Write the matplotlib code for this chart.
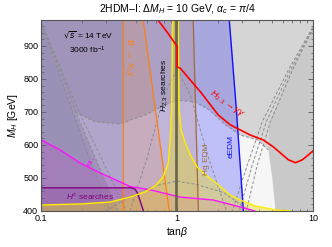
import matplotlib
matplotlib.use('Agg')
import matplotlib.pyplot as plt
from matplotlib.ticker import MultipleLocator, FixedLocator, NullFormatter

plt.rcParams['font.family'] = ['Liberation Sans', 'DejaVu Sans']
plt.rcParams['mathtext.fontset'] = 'custom'
plt.rcParams['mathtext.rm'] = 'Liberation Sans'
plt.rcParams['mathtext.it'] = 'Liberation Sans:italic'

# --- boundaries (tan(beta), M_H [GeV]) ---
red_tb = [0.72, 0.85, 1.0, 1.0, 1.05, 1.5, 2.0, 2.45, 3.44, 4.29, 5.08, 6.55, 7.38, 8.3, 9.19, 10.0]
red_M = [979, 940, 898, 836, 833, 758, 691, 661, 630, 615, 594, 555, 546, 555, 570, 583]

eedm_tb = [2.41, 2.72, 3.06]
eedm_M = [980, 706, 400]

hg_tb = [1.31, 1.43]
hg_M = [980, 400]

bsg_tb = [0.562, 0.874]
bsg_M = [980, 400]
bsg_low = 0.40

tt_tb = [0.1, 0.138, 0.194, 0.272, 0.381, 0.451, 0.633, 1.05, 1.84, 2.9, 3.7]
tt_M = [615, 585, 545, 515, 488, 474, 464, 442, 433, 412, 400]

hpm_tb = [0.1, 0.46, 0.49, 0.51, 0.535, 0.565]
hpm_M = [470, 470, 466, 455, 430, 400]

yel_tb = [0.1, 0.194, 0.321, 0.451, 0.582, 0.689, 0.789, 0.86, 0.889, 0.91, 0.925,
          1.017, 1.034, 1.07, 1.145, 1.247, 1.402, 1.663, 1.966, 2.452, 2.904, 3.748, 5.26, 6.77]
yel_M = [418, 421, 427, 442, 458, 476, 503, 545, 615, 706, 980,
         980, 706, 645, 606, 570, 533, 506, 482, 448, 433, 415, 403, 400]
tb_center = 0.985

# allowed (light) region from theory constraints
wh_tb = [0.368, 0.254, 0.178, 0.25, 0.381, 0.582, 0.816, 1.0, 1.356, 1.718, 2.253, 2.904,
         3.9, 4.667, 5.0, 5.26]
wh_M = [400, 555, 700, 670, 664, 691, 721, 736, 730, 706, 661, 630,
        615, 585, 494, 400]

# darker grey beyond the right edge
dk_M = [955, 827, 670, 585, 494, 400]
dk_tb = [10.0, 6.77, 4.7, 4.667, 5.0, 5.26]

# dashed fan lines (outer "V")
fan_M = [967, 858, 706, 555, 400]
fanL1 = [0.100, 0.1247, 0.169, 0.229, 0.321]
fanL2 = [0.100, 0.1289, 0.178, 0.254, 0.368]
fanL3 = [0.1017, 0.1311, 0.187, 0.281, 0.422]
fanR_M = [955, 827, 670, 539, 400]
fanR1 = [10.0, 7.02, 4.83, 3.87, 3.22]
fanR2 = [10.0, 6.77, 4.51, 3.556, 2.86]
fanR3 = [9.84, 6.55, 4.21, 3.27, 2.54]

# inner dashed arcs
arc1_tb = [0.178, 0.25, 0.381, 0.582, 0.816, 1.0, 1.356, 1.718, 2.253, 2.904, 3.9, 4.667]
arc1_M = [700, 670, 664, 691, 721, 736, 730, 706, 661, 630, 615, 585]
arc2_tb = [0.45, 0.6, 0.8, 1.0, 1.25, 1.7, 2.3]
arc2_M = [400, 560, 750, 830, 750, 560, 400]
arc3_tb = [0.3, 0.5, 0.75, 1.0, 1.4, 2.2, 3.4]
arc3_M = [400, 455, 480, 490, 480, 455, 400]

fig = plt.figure(figsize=(3.32, 2.47), dpi=100)
ax = fig.add_axes([0.1235, 0.146, 0.8205, 0.775])
ax.set_xscale('log')
ax.set_xlim(0.1, 10)
ax.set_ylim(400, 980)
ax.set_facecolor('#d5d5d5')

# theory-allowed region and darker grey outside
ax.fill(wh_tb, wh_M, color='#f6f6f6', lw=0, zorder=1)
ax.fill_betweenx(fan_M, 0.1, fanL1, color='#808080', alpha=0.1, lw=0, zorder=1.5)
ax.fill_betweenx(dk_M, dk_tb, 10, color='#808080', alpha=0.14, lw=0, zorder=1.5)

# experimental constraints
ax.fill_betweenx(eedm_M, 0.1, eedm_tb, color='#2828ff', alpha=0.26, lw=0, zorder=2)
ax.fill_betweenx(hg_M, 0.1, hg_tb, color='#c08050', alpha=0.18, lw=0, zorder=2.1)
ax.fill_betweenx(bsg_M, bsg_low, bsg_tb, color='#f08228', alpha=0.15, lw=0, zorder=2.2)
ax.fill_betweenx(bsg_M, 0.1, bsg_low, color='#645a82', alpha=0.16, lw=0, zorder=2.2)
ax.fill_between(tt_tb, 400, tt_M, color='#c828c8', alpha=0.16, lw=0, zorder=2.3)
ax.fill_between(hpm_tb, 400, hpm_M, color='#7a2080', alpha=0.16, lw=0, zorder=2.4)
ax.fill(yel_tb + [10, 0.1], yel_M + [400, 400], color='#e8d820', alpha=0.42, lw=0, zorder=2.5)

# dashed theory contours
dash = dict(color='#8c8c8c', lw=0.7, ls=(0, (3, 2)), zorder=3)
for fl in (fanL1, fanL2, fanL3):
    ax.plot(fl, fan_M, **dash)
for fr in (fanR1, fanR2, fanR3):
    ax.plot(fr, fanR_M, **dash)
ax.plot(arc1_tb, arc1_M, **dash)
ax.plot(arc2_tb, arc2_M, **dash)
ax.plot(arc3_tb, arc3_M, **dash)

# boundary lines
ax.plot(eedm_tb, eedm_M, color='#1010ff', lw=1.0, zorder=4)
ax.plot(hg_tb, hg_M, color='#a06a3a', lw=0.9, zorder=4)
ax.plot(bsg_tb, bsg_M, color='#ff8010', lw=0.9, zorder=4)
ax.axvline(bsg_low, color='#ff8010', lw=0.9, zorder=4)
ax.plot(tt_tb, tt_M, color='#ff10ff', lw=1.0, zorder=4)
ax.plot(hpm_tb, hpm_M, color='#800080', lw=1.0, zorder=4)
ax.plot(yel_tb, yel_M, color='#ffee00', lw=1.0, zorder=4)
ax.axvline(tb_center, color='#5a5a40', lw=2.0, alpha=0.85, zorder=4)
ax.plot(red_tb, red_M, color='#ff0000', lw=1.2, zorder=5)

# labels inside the plot
ax.text(0.173, 0.914, r'$\sqrt{s}$ = 14 TeV', transform=ax.transAxes, fontsize=6,
        ha='center', va='center', zorder=6, math_fontfamily='dejavusans')
ax.text(0.169, 0.841, r'3000 fb$^{-1}$', transform=ax.transAxes, fontsize=6,
        ha='center', va='center', zorder=6)
ax.text(0.324, 0.80, r'B $\rightarrow$ X$_s\gamma$', transform=ax.transAxes, fontsize=6.5,
        color='#ff8010', rotation=-90, ha='center', va='center', zorder=6)
ax.text(0.452, 0.658, r'$H_{2,3}$ searches', transform=ax.transAxes, fontsize=6,
        rotation=90, ha='center', va='center', zorder=6)
ax.text(0.68, 0.56, r'$H_{2,3}\rightarrow\gamma\gamma$', transform=ax.transAxes, fontsize=6.5,
        color='#ff0000', rotation=-35, ha='center', va='center', zorder=6)
ax.text(0.607, 0.27, 'Hg EDM', transform=ax.transAxes, fontsize=6,
        color='#a06a3a', rotation=90, ha='center', va='center', zorder=6)
ax.text(0.699, 0.339, 'eEDM', transform=ax.transAxes, fontsize=6,
        color='#1010ff', rotation=90, ha='center', va='center', zorder=6)
ax.text(0.18, 0.25, r'$t\bar{t}$', transform=ax.transAxes, fontsize=6.5,
        color='#ff10ff', rotation=-20, ha='center', va='center', zorder=6)
ax.text(0.18, 0.073, r'$H^{\pm}$ searches', transform=ax.transAxes, fontsize=6,
        color='#800080', ha='center', va='center', zorder=6)

# axes styling
ax.set_title(r'2HDM–I: Δ$M_H$ = 10 GeV, $\alpha_c$ = $\pi$/4', fontsize=7.5, pad=5)
ax.set_xlabel(r'tan$\beta$', fontsize=7.5, labelpad=2)
ax.set_ylabel(r'$M_H$ [GeV]', fontsize=7.5, labelpad=2)
ax.xaxis.set_major_locator(FixedLocator([0.1, 1, 10]))
ax.set_xticklabels(['0.1', '1', '10'])
ax.xaxis.set_minor_locator(FixedLocator([0.2, 0.3, 0.4, 0.5, 0.6, 0.7, 0.8, 0.9,
                                         2, 3, 4, 5, 6, 7, 8, 9]))
ax.xaxis.set_minor_formatter(NullFormatter())
ax.yaxis.set_major_locator(MultipleLocator(100))
ax.yaxis.set_minor_locator(MultipleLocator(20))
ax.tick_params(which='both', direction='in', top=True, right=True, labelsize=6.5,
               color='#555555', pad=2)
ax.tick_params(which='major', length=3.5, width=0.6)
ax.tick_params(which='minor', length=1.8, width=0.5)
for sp in ax.spines.values():
    sp.set_color('#555555')
    sp.set_linewidth(0.8)
    sp.set_zorder(7)

fig.savefig('out.png', dpi=100)
